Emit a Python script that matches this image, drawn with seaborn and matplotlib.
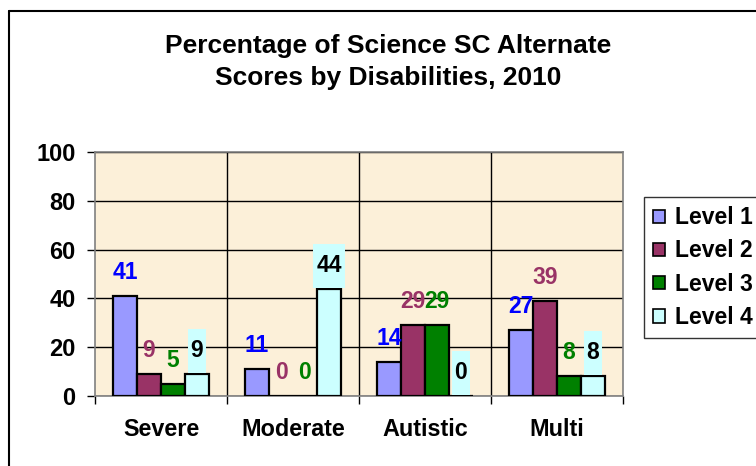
import matplotlib
matplotlib.use("Agg")
import matplotlib.pyplot as plt
from matplotlib.patches import Patch, Rectangle
from matplotlib.lines import Line2D
import seaborn as sns
import pandas as pd

categories = ["Severe", "Moderate", "Autistic", "Multi"]
levels = ["Level 1", "Level 2", "Level 3", "Level 4"]
level1 = [41, 11, 14, 27]
level2 = [9, 0, 29, 39]
level3 = [5, 0, 29, 8]
level4 = [9, 44, 0, 8]
yticks = [0, 20, 40, 60, 80, 100]
title = "Percentage of Science SC Alternate\nScores by Disabilities, 2010"

bar_colors = ["#9999FF", "#993366", "#008000", "#CCFFFF"]
label_colors = ["#0000FF", "#993366", "#008000", "#000000"]

rows = []
for lvl, vals in zip(levels, [level1, level2, level3, level4]):
    for c, v in zip(categories, vals):
        rows.append({"Disability": c, "Level": lvl, "Percent": v})
df = pd.DataFrame(rows)

sns.set_theme(style="white")
plt.rcParams["font.family"] = ["Liberation Sans", "DejaVu Sans"]
plt.rcParams["font.weight"] = "bold"
plt.rcParams["text.color"] = "black"
plt.rcParams["xtick.color"] = "black"
plt.rcParams["ytick.color"] = "black"
plt.rcParams["xtick.labelcolor"] = "black"
plt.rcParams["ytick.labelcolor"] = "black"

fig = plt.figure(figsize=(7.56, 4.66), dpi=100)
fig.patch.set_facecolor("white")
ax = fig.add_axes([95 / 756, 1 - 396 / 466, (623 - 95) / 756, (396 - 152) / 466])
ax.set_facecolor("#FCF0D9")

sns.barplot(data=df, x="Disability", y="Percent", hue="Level", order=categories,
            hue_order=levels, palette=bar_colors, saturation=1, edgecolor="black",
            linewidth=1.6, width=0.727, ax=ax, legend=False, zorder=3)

ax.set_ylim(0, 100)
ax.set_xlim(-0.5, len(categories) - 0.5)
ax.set_yticks(yticks)
ax.set_yticklabels([str(t) for t in yticks], fontsize=17, fontweight="bold", color="black")
ax.yaxis.grid(True, color="black", linewidth=1.0, zorder=1)
ax.set_axisbelow(True)
for b in range(1, len(categories)):
    ax.axvline(b - 0.5, color="black", linewidth=1.0, zorder=1)

ax.set_xticks([i - 0.5 for i in range(len(categories) + 1)])
ax.set_xticklabels([])
ax.set_xticks(list(range(len(categories))), minor=True)
ax.set_xticklabels(categories, minor=True, fontsize=16.8, fontweight="bold", color="black")
ax.tick_params(axis="x", which="major", length=6, width=1, color="black", direction="out", bottom=True)
ax.tick_params(axis="x", which="minor", length=0, pad=16)
ax.tick_params(axis="y", length=6, width=1, color="black", direction="out", left=True, pad=8)
ax.set_xlabel("")
ax.set_ylabel("")
for s in ax.spines.values():
    s.set_color("#808080")
    s.set_linewidth(1.2)
    s.set_visible(True)

fig.canvas.draw()
renderer = fig.canvas.get_renderer()
inv = ax.transData.inverted()
for i, cont in enumerate(ax.containers):
    for bar in cont:
        h = bar.get_height()
        xc = bar.get_x() + bar.get_width() / 2
        t = ax.annotate(f"{int(round(h))}", (xc, h), xytext=(0, 17), textcoords="offset points",
                        ha="center", va="center", fontsize=16.5, fontweight="bold",
                        color=label_colors[i], zorder=6)
        if i == 3:
            fig.canvas.draw()
            bb = t.get_window_extent(renderer)
            x0, _ = inv.transform((bb.x0 - 3, 0))
            x1, _ = inv.transform((bb.x1 + 3, 0))
            base_px = ax.transData.transform((xc, h))[1]
            _, y0 = inv.transform((0, base_px + 1))
            _, y1 = inv.transform((0, base_px + 45))
            ax.add_patch(Rectangle((x0, y0), x1 - x0, y1 - y0, facecolor="#CCFFFF",
                                   edgecolor="none", zorder=5))

fig.text(388 / 756, 1 - 62 / 466, title, ha="center", va="center", fontsize=19,
         fontweight="bold", linespacing=1.45, color="black")

handles = [Patch(facecolor=c, edgecolor="black", linewidth=1.2) for c in bar_colors]
leg = fig.legend(handles, levels, loc="upper left", bbox_to_anchor=(644 / 756, 1 - 197 / 466),
                 frameon=True, fancybox=False, edgecolor="black",
                 handlelength=0.5, handleheight=0.5, handletextpad=0.45, labelspacing=0.45,
                 borderpad=0.4, borderaxespad=0, prop={"weight": "bold", "size": 16.5})
leg.get_frame().set_linewidth(1.0)
for txt in leg.get_texts():
    txt.set_color("black")
leg.set_zorder(10)

fig.add_artist(Line2D([9 / 756, 1.0], [1 - 11 / 466, 1 - 11 / 466], color="black", linewidth=1.5,
                      transform=fig.transFigure))
fig.add_artist(Line2D([9 / 756, 9 / 756], [0, 1 - 11 / 466], color="black", linewidth=1.5,
                      transform=fig.transFigure))

fig.savefig("out.png", dpi=100)
